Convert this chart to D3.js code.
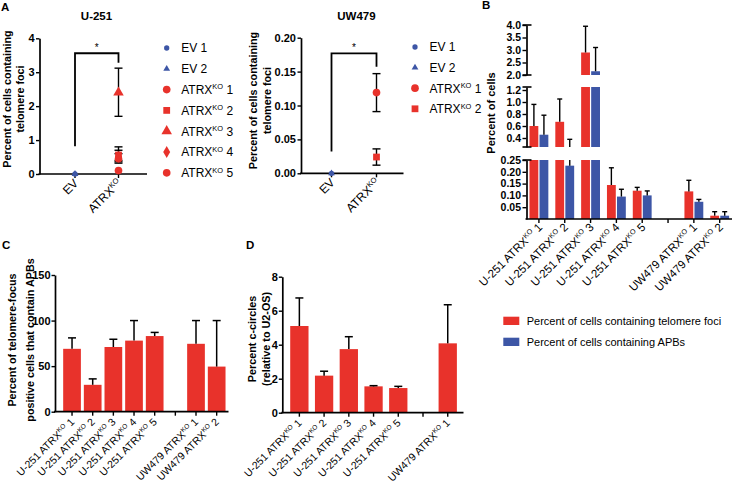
<!DOCTYPE html>
<html><head><meta charset="utf-8">
<script src="https://cdn.jsdelivr.net/npm/d3@7"></script>
<style>body{margin:0;background:#fff}svg{display:block}</style>
</head><body><svg id="c" width="732" height="487"></svg>
<script>
// ================= DATA =================
// Panel A – U-251
const u251Groups = ["EV", "ATRXKO"];
const u251Series = ["EV 1", "EV 2", "ATRXKO 1", "ATRXKO 2", "ATRXKO 3", "ATRXKO 4", "ATRXKO 5"];
const u251SeriesGroup = ["EV", "EV", "ATRXKO", "ATRXKO", "ATRXKO", "ATRXKO", "ATRXKO"];
const u251Mean = [0, 0, 0.45, 0.56, 2.40, 0.50, 0.10];
const u251ErrLow = [0, 0, 0.32, 0.36, 1.70, 0.40, 0.10];
const u251ErrHigh = [0, 0, 0.60, 0.80, 3.12, 0.70, 0.10];
const u251Ticks = [0, 1, 2, 3, 4];
const u251Bracket = [0.82, 3.56, 3.28]; // left end, top, right end

// Panel A – UW479
const uw479Groups = ["EV", "ATRXKO"];
const uw479Series = ["EV 1", "EV 2", "ATRXKO 1", "ATRXKO 2"];
const uw479SeriesGroup = ["EV", "EV", "ATRXKO", "ATRXKO"];
const uw479Mean = [0, 0, 0.119, 0.024];
const uw479ErrLow = [0, 0, 0.091, 0.012];
const uw479ErrHigh = [0, 0, 0.147, 0.036];
const uw479Ticks = [0, 0.05, 0.10, 0.15, 0.20];
const uw479Bracket = [0.032, 0.177, 0.157];

// Panel B
const bCategories = ["U-251 ATRXKO 1", "U-251 ATRXKO 2", "U-251 ATRXKO 3", "U-251 ATRXKO 4", "U-251 ATRXKO 5", "", "UW479 ATRXKO 1", "UW479 ATRXKO 2"];
const bSeries = ["Percent of cells containing telomere foci", "Percent of cells containing APBs"];
const bFoci = [0.60, 0.67, 2.90, 0.144, 0.120, null, 0.117, 0.014];
const bFociErr = [0.96, 1.05, 3.95, 0.217, 0.134, null, 0.164, 0.031];
const bApb = [0.455, 0.226, 2.15, 0.095, 0.100, null, 0.073, 0.014];
const bApbErr = [0.78, 0.378, 3.10, 0.126, 0.119, null, 0.083, 0.031];
const bSegments = [[0, 0.25], [0.25, 1.25], [2, 4]];
const bTicksLow = [0.05, 0.10, 0.15, 0.20, 0.25];
const bTicksMid = [0.4, 0.6, 0.8, 1.0, 1.2];
const bTicksHigh = [2.0, 2.5, 3.0, 3.5, 4.0];

// Panel C
const cCategories = ["U-251 ATRXKO 1", "U-251 ATRXKO 2", "U-251 ATRXKO 3", "U-251 ATRXKO 4", "U-251 ATRXKO 5", "", "UW479 ATRXKO 1", "UW479 ATRXKO 2"];
const cValues = [69, 29.5, 71, 78, 83, null, 74.5, 49.5];
const cErr = [81, 36, 79.5, 100, 87, null, 100, 100];
const cTicks = [0, 50, 100, 150];

// Panel D
const dCategories = ["U-251 ATRXKO 1", "U-251 ATRXKO 2", "U-251 ATRXKO 3", "U-251 ATRXKO 4", "U-251 ATRXKO 5", "", "UW479 ATRXKO 1"];
const dValues = [5.1, 2.18, 3.74, 1.55, 1.45, null, 4.08];
const dErr = [6.75, 2.44, 4.47, 1.59, 1.55, null, 6.35];
const dTicks = [0, 2, 4, 6, 8];

// ================= STYLE =================
const RED = "#E8322B", BLUE = "#3D56A6";
const FONT = '"Liberation Sans", Arial, Helvetica, sans-serif';
const svg = d3.select("#c");

function rich(sel, s, size) {
  const i = s.indexOf("ATRXKO");
  if (i < 0) { sel.text(s); return; }
  sel.append("tspan").text(s.slice(0, i + 4));
  sel.append("tspan").attr("font-size", size * 0.62).attr("dy", -size * 0.38).text("KO");
  sel.append("tspan").attr("dy", size * 0.38).text(s.slice(i + 6));
}
function styleAxis(g, fs) {
  g.attr("font-family", FONT).attr("font-size", fs).attr("font-weight", "bold");
  g.selectAll("path.domain").attr("stroke", "#000").attr("stroke-width", 1.7);
  g.selectAll(".tick line").attr("stroke", "#000").attr("stroke-width", 1.4);
  g.selectAll(".tick text").attr("fill", "#000");
}
function yTitle(lines, xs, yc, fs) {
  lines.forEach((t, i) => {
    svg.append("text").attr("transform", `translate(${xs[i]},${yc}) rotate(-90)`)
      .attr("text-anchor", "middle").attr("font-family", FONT).attr("font-weight", "bold")
      .attr("font-size", fs).attr("fill", "#000").text(t);
  });
}
function letter(t, x, y) {
  svg.append("text").attr("x", x).attr("y", y).attr("font-family", FONT).attr("font-weight", "bold")
    .attr("font-size", 11.5).attr("fill", "#000").text(t);
}
function rotLabels(names, xfun, y0, dx, dy, fs) {
  names.forEach((n, i) => {
    if (!n) return;
    const t = svg.append("text").attr("transform", `translate(${xfun(i) + dx},${y0 + dy}) rotate(-45)`)
      .attr("text-anchor", "end").attr("font-family", FONT).attr("font-size", fs).attr("fill", "#000");
    rich(t, n, fs);
  });
}

const shapeOf = {
  "EV 1": [d3.symbolCircle, 22, BLUE], "EV 2": [d3.symbolTriangle, 20, BLUE],
  "ATRXKO 1": [d3.symbolCircle, 46, RED], "ATRXKO 2": [d3.symbolSquare, 46, RED],
  "ATRXKO 3": [d3.symbolTriangle, 48, RED], "ATRXKO 4": [d3.symbolDiamond, 42, RED],
  "ATRXKO 5": [d3.symbolCircle, 46, RED]
};

// ================= PANEL A =================
function scatter(o) {
  const y = d3.scaleLinear().domain([0, o.ticks[o.ticks.length - 1]]).range([o.yB, o.yT]);
  const x = d3.scalePoint().domain(o.groups).range(o.xr);
  const ga = svg.append("g").attr("transform", `translate(${o.spine},0)`)
    .call(d3.axisLeft(y).tickValues(o.ticks).tickSize(3.5).tickSizeOuter(0).tickFormat(d3.format(o.fmt)));
  styleAxis(ga, 11);
  ga.selectAll(".tick text").attr("x", -5);
  svg.append("line").attr("x1", o.spine - 1).attr("x2", o.xEnd).attr("y1", o.yB).attr("y2", o.yB)
    .attr("stroke", "#000").attr("stroke-width", 1.7);
  o.groups.forEach(g => svg.append("line").attr("x1", x(g)).attr("x2", x(g)).attr("y1", o.yB).attr("y2", o.yB + 4)
    .attr("stroke", "#000").attr("stroke-width", 1.4));
  rotLabels(o.groups, i => x(o.groups[i]), o.yB, 4, 10, 12);
  const b = o.bracket;
  svg.append("path").attr("d", `M${x(o.groups[0])},${y(b[0])}V${y(b[1])}H${x(o.groups[1])}V${y(b[2])}`)
    .attr("fill", "none").attr("stroke", "#000").attr("stroke-width", 1.8);
  svg.append("text").attr("x", (x(o.groups[0]) + x(o.groups[1])) / 2).attr("y", y(b[1]) - 2)
    .attr("text-anchor", "middle").attr("font-family", FONT).attr("font-size", 10).text("*");
  o.series.forEach((s, i) => {
    if (o.high[i] === o.low[i]) return;
    const cx = x(o.sg[i]);
    const g = svg.append("g").attr("stroke", "#000").attr("stroke-width", 1.4);
    g.append("line").attr("x1", cx).attr("x2", cx).attr("y1", y(o.low[i])).attr("y2", y(o.high[i]));
    [o.low[i], o.high[i]].forEach(v => g.append("line").attr("x1", cx - 4).attr("x2", cx + 4).attr("y1", y(v)).attr("y2", y(v)));
  });
  o.series.forEach((s, i) => {
    const sh = shapeOf[s];
    svg.append("path").attr("d", d3.symbol().type(sh[0]).size(sh[1])())
      .attr("transform", `translate(${x(o.sg[i])},${y(o.mean[i])})`).attr("fill", sh[2]);
  });
  o.series.forEach((s, i) => {
    const sh = shapeOf[s];
    const ly = o.ly0 + i * o.lstep;
    svg.append("path").attr("d", d3.symbol().type(sh[0]).size(sh[1])())
      .attr("transform", `translate(${o.lx},${ly})`).attr("fill", sh[2]);
    const t = svg.append("text").attr("x", o.lx + 14.5).attr("y", ly + 4.3).attr("font-family", FONT)
      .attr("font-size", 12).attr("fill", "#000");
    rich(t, s, 12);
  });
  svg.append("text").attr("x", o.titleX).attr("y", 20).attr("text-anchor", "middle").attr("font-family", FONT)
    .attr("font-weight", "bold").attr("font-size", 11.5).text(o.title);
  yTitle(["Percent of cells containing", "telomere foci"], o.ytx, o.ytc, 10.8);
}

scatter({ groups: u251Groups, series: u251Series, sg: u251SeriesGroup, mean: u251Mean, low: u251ErrLow, high: u251ErrHigh,
  ticks: u251Ticks, fmt: "d", bracket: u251Bracket, spine: 39.5, xEnd: 147, yB: 174, yT: 38.3, xr: [75, 118.5],
  lx: 166.7, ly0: 48, lstep: 20.8, title: "U-251", titleX: 96.5, ytx: [10.5, 23.5], ytc: 99 });
scatter({ groups: uw479Groups, series: uw479Series, sg: uw479SeriesGroup, mean: uw479Mean, low: uw479ErrLow, high: uw479ErrHigh,
  ticks: uw479Ticks, fmt: ".2f", bracket: uw479Bracket, spine: 301, xEnd: 403.5, yB: 173.3, yT: 37.7, xr: [331.5, 376.5],
  lx: 415, ly0: 47, lstep: 20.6, title: "UW479", titleX: 356.5, ytx: [257, 270.5], ytc: 100.5 });

letter("A", 1, 10.5);

// ================= PANEL B =================
(function () {
  const spine = 526.5;
  const segRanges = [[219, 160], [147, 87], [75, 25]];
  const segTicks = [bTicksLow, bTicksMid, bTicksHigh];
  const segFmt = [".2f", ".1f", ".1f"];
  const scales = bSegments.map((s, i) => d3.scaleLinear().domain(s).range(segRanges[i]));
  const x = d3.scaleBand().domain(d3.range(bCategories.length)).range([526, 732.6]).paddingInner(0.27).paddingOuter(0.135);
  const sub = d3.scaleBand().domain([0, 1]).range([0, x.bandwidth()]).paddingInner(0.12);
  const vals = [bFoci, bApb], errs = [bFociErr, bApbErr], cols = [RED, BLUE];
  vals.forEach((arr, j) => arr.forEach((v, i) => {
    if (v == null) return;
    bSegments.forEach((s, k) => {
      if (v <= s[0]) return;
      const top = Math.min(v, s[1]);
      const sc = scales[k];
      svg.append("rect").attr("x", x(i) + sub(j)).attr("width", sub.bandwidth())
        .attr("y", sc(top)).attr("height", sc(s[0]) - sc(top)).attr("fill", cols[j]);
    });
  }));
  vals.forEach((arr, j) => arr.forEach((v, i) => {
    if (v == null) return;
    const e = errs[j][i], cx = x(i) + sub(j) + sub.bandwidth() / 2;
    bSegments.forEach((s, k) => {
      const a = Math.max(v, s[0]), b = Math.min(e, s[1]);
      const sc = scales[k];
      if (b > a) svg.append("line").attr("x1", cx).attr("x2", cx).attr("y1", sc(a)).attr("y2", sc(b))
        .attr("stroke", "#000").attr("stroke-width", 1.4);
      if (e >= s[0] && e <= s[1]) svg.append("line").attr("x1", cx - 2.5).attr("x2", cx + 2.5)
        .attr("y1", sc(e)).attr("y2", sc(e)).attr("stroke", "#000").attr("stroke-width", 1.4);
    });
  }));
  scales.forEach((sc, k) => {
    const g = svg.append("g").attr("transform", `translate(${spine},0)`)
      .call(d3.axisLeft(sc).tickValues(segTicks[k]).tickSize(4).tickSizeOuter(0).tickFormat(d3.format(segFmt[k])));
    styleAxis(g, 10.5);
    g.selectAll(".tick text").attr("x", -5.5);
    const r = segRanges[k];
    (k === 0 ? [r[1]] : r).forEach(yy => svg.append("line").attr("x1", spine - 4).attr("x2", spine + 5)
      .attr("y1", yy).attr("y2", yy).attr("stroke", "#000").attr("stroke-width", 1.6));
  });
  svg.append("line").attr("x1", spine - 1).attr("x2", 732).attr("y1", 219).attr("y2", 219)
    .attr("stroke", "#000").attr("stroke-width", 1.7);
  bCategories.forEach((c, i) => svg.append("line").attr("x1", x(i) + x.bandwidth() / 2).attr("x2", x(i) + x.bandwidth() / 2)
    .attr("y1", 219).attr("y2", 223).attr("stroke", "#000").attr("stroke-width", 1.4));
  rotLabels(bCategories, i => x(i) + x.bandwidth() / 2, 219, 4, 9, 11.5);
  yTitle(["Percent of cells"], [495], 113, 11);
  bSeries.forEach((s, j) => {
    const ly = 316.7 + j * 21;
    svg.append("rect").attr("x", 503.3).attr("y", ly).attr("width", 16).attr("height", 8.3).attr("fill", cols[j]);
    svg.append("text").attr("x", 526.7).attr("y", ly + 8.5).attr("font-family", FONT).attr("font-size", 11)
      .attr("fill", "#000").text(s);
  });
  letter("B", 482, 9);
})();

// ================= PANELS C & D =================
function barPanel(o) {
  const y = d3.scaleLinear().domain([0, o.ticks[o.ticks.length - 1]]).range([o.yB, o.yT]);
  const x = d3.scaleBand().domain(d3.range(o.cats.length)).range(o.xr).paddingInner(o.pi).paddingOuter(o.pi / 2);
  o.vals.forEach((v, i) => {
    if (v == null) return;
    svg.append("rect").attr("x", x(i)).attr("width", x.bandwidth()).attr("y", y(v)).attr("height", y(0) - y(v)).attr("fill", RED);
    const cx = x(i) + x.bandwidth() / 2;
    svg.append("line").attr("x1", cx).attr("x2", cx).attr("y1", y(v)).attr("y2", y(o.errs[i])).attr("stroke", "#000").attr("stroke-width", 1.5);
    svg.append("line").attr("x1", cx - 4).attr("x2", cx + 4).attr("y1", y(o.errs[i])).attr("y2", y(o.errs[i])).attr("stroke", "#000").attr("stroke-width", 1.5);
  });
  const g = svg.append("g").attr("transform", `translate(${o.spine},0)`)
    .call(d3.axisLeft(y).tickValues(o.ticks).tickSize(3.5).tickSizeOuter(0).tickFormat(d3.format("d")));
  styleAxis(g, 11);
  g.selectAll(".tick text").attr("x", -4.5);
  svg.append("line").attr("x1", o.spine - 1).attr("x2", o.xEnd).attr("y1", o.yB).attr("y2", o.yB).attr("stroke", "#000").attr("stroke-width", 1.7);
  o.cats.forEach((c, i) => svg.append("line").attr("x1", x(i) + x.bandwidth() / 2).attr("x2", x(i) + x.bandwidth() / 2)
    .attr("y1", o.yB).attr("y2", o.yB + 4).attr("stroke", "#000").attr("stroke-width", 1.4));
  rotLabels(o.cats, i => x(i) + x.bandwidth() / 2, o.yB, 3, 11, 10.5);
  yTitle(o.title, o.ytx, o.ytc, 10.8);
}
barPanel({ cats: cCategories, vals: cValues, errs: cErr, ticks: cTicks, yB: 411.7, yT: 275, xr: [61.7, 227], pi: 0.143,
  spine: 55, xEnd: 228.5, title: ["Percent of telomere-focus", "positive cells that contain APBs"], ytx: [16, 33.5], ytc: 340 });
barPanel({ cats: dCategories, vals: dValues, errs: dErr, ticks: dTicks, yB: 412.7, yT: 276.7, xr: [287, 460.1], pi: 0.26,
  spine: 282.3, xEnd: 463.5, title: ["Percent c-circles", "(relative to U2-OS)"], ytx: [256, 269.5], ytc: 339 });
letter("C", 2, 249);
letter("D", 246, 249);
</script></body></html>
